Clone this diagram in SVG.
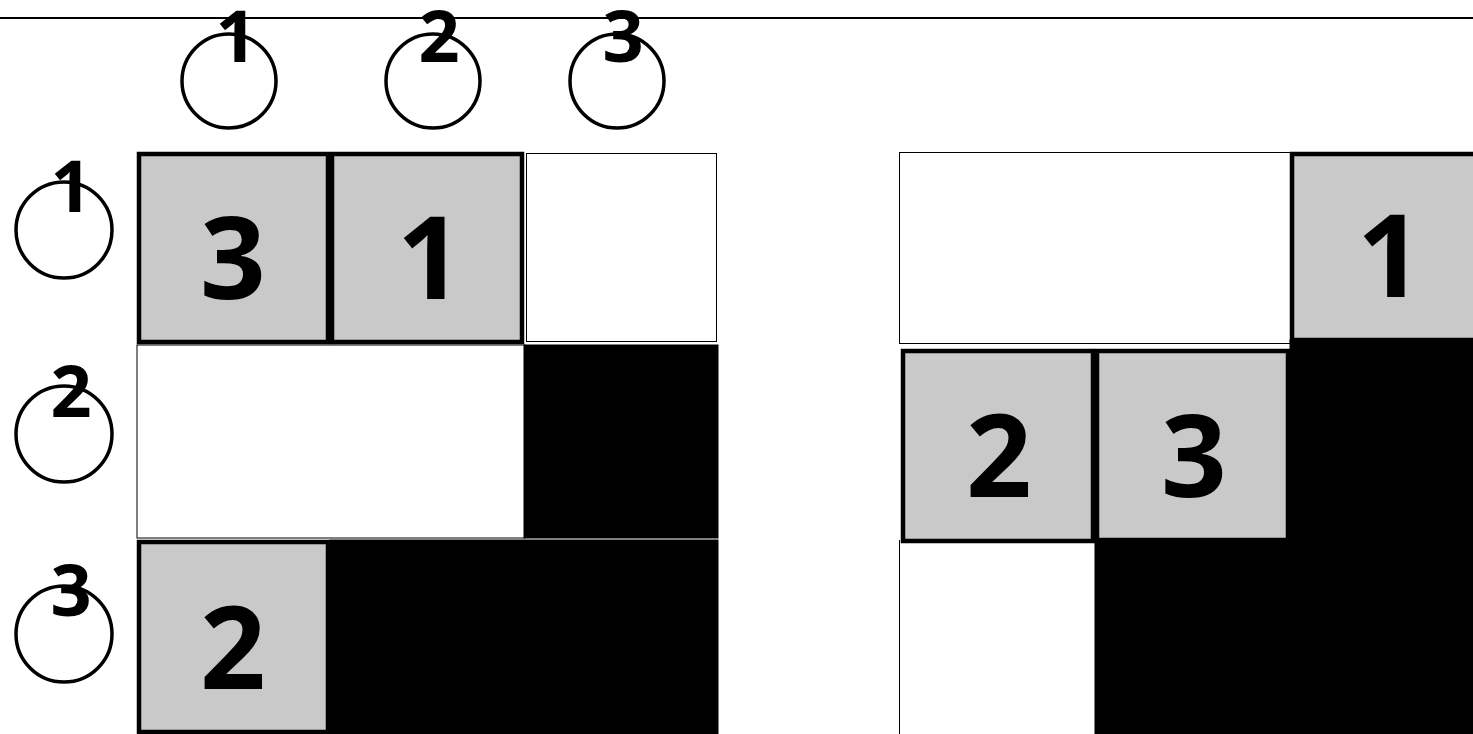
<svg xmlns="http://www.w3.org/2000/svg" width="1473" height="734" viewBox="0 0 1473 734">
<style>
.gray{fill:#c9c9c9;stroke:#000;stroke-width:4.5}
.white{fill:#fff;stroke:#000;stroke-width:1}
.black{fill:#000;stroke:#000;stroke-width:1}
.circ{fill:none;stroke:#000;stroke-width:3.5}
.big{font-family:"Open Sans","Noto Sans",sans-serif;font-weight:700;font-size:115px;text-anchor:middle;fill:#000}
.lab{font-family:"Open Sans","Noto Sans",sans-serif;font-weight:700;font-size:72px;text-anchor:middle;fill:#000}
</style>
<rect width="1473" height="734" fill="#fff"/>
<line x1="0" y1="18" x2="1473" y2="18" stroke="#000" stroke-width="2"/>
<g id="col-labels">
<g id="col1"><circle class="circ" cx="229" cy="81" r="47"/><text class="lab" x="236" y="62">1</text></g>
<g id="col2"><circle class="circ" cx="433" cy="81" r="47"/><text class="lab" x="439" y="62">2</text></g>
<g id="col3"><circle class="circ" cx="617" cy="81" r="47"/><text class="lab" x="623" y="62">3</text></g>
</g>
<g id="row-labels">
<g id="row1"><circle class="circ" cx="64" cy="230" r="48"/><text class="lab" x="71" y="212">1</text></g>
<g id="row2"><circle class="circ" cx="64" cy="434" r="48"/><text class="lab" x="71" y="417">2</text></g>
<g id="row3"><circle class="circ" cx="64" cy="634" r="48"/><text class="lab" x="71" y="616">3</text></g>
</g>
<g id="left-grid">
<rect class="white" x="137" y="345" width="388" height="193"/>
<rect class="white" x="526.5" y="153.5" width="190" height="188"/>
<rect class="black" x="524" y="345" width="194" height="193"/>
<rect class="black" x="330" y="540" width="388" height="194"/>
<g id="L11"><rect class="gray" x="139" y="154" width="189" height="188"/><text class="big" x="233" y="299">3</text></g>
<g id="L12"><rect class="gray" x="332" y="154" width="190" height="188"/><text class="big" x="430" y="299">1</text></g>
<g id="L31"><rect class="gray" x="139" y="542" width="189" height="190"/><text class="big" x="233" y="689">2</text></g>
</g>
<g id="right-grid">
<rect class="white" x="899.5" y="152.5" width="392" height="191"/>
<line x1="899.5" y1="540" x2="899.5" y2="734" stroke="#000" stroke-width="1"/>
<rect class="black" x="1290" y="340" width="183" height="394"/>
<rect class="black" x="1095" y="540" width="378" height="194"/>
<g id="R13"><rect class="gray" x="1292" y="154" width="185" height="186"/><text class="big" x="1390" y="297">1</text></g>
<g id="R21"><rect class="gray" x="903" y="351" width="190" height="190"/><text class="big" x="999" y="497">2</text></g>
<g id="R22"><rect class="gray" x="1097" y="351" width="191" height="189"/><text class="big" x="1194" y="497">3</text></g>
</g>
</svg>
